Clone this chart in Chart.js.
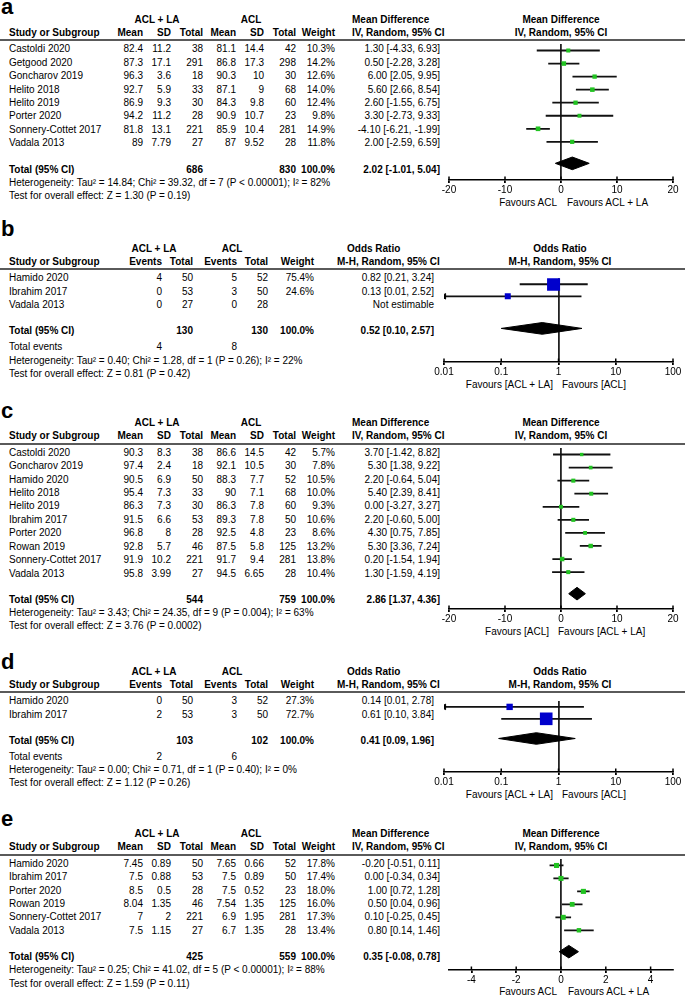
<!DOCTYPE html>
<html>
<head>
<meta charset="utf-8">
<script src="https://cdn.jsdelivr.net/npm/chart.js@4.4.0/dist/chart.umd.min.js"></script>
<style>
  body { margin: 0; width: 685px; height: 995px; position: relative; overflow: hidden; background: #fff;
         font-family: "Liberation Sans", Arial, sans-serif; color: #000; }
  .t { position: absolute; white-space: nowrap; }
  .rule { position: absolute; left: 0; width: 685px; height: 2px; background: #5a5a5a; }
  canvas { position: absolute; }
</style>
</head>
<body>
<script>
// ---- panel a : continuous ----
const aStudy = ['Castoldi 2020', 'Getgood 2020', 'Goncharov 2019', 'Helito 2018', 'Helito 2019', 'Porter 2020', 'Sonnery-Cottet 2017', 'Vadala 2013'];
const aMeanLA = [82.4, 87.3, 96.3, 92.7, 86.9, 94.2, 81.8, 89];
const aSdLA = [11.2, 17.1, 3.6, 5.9, 9.3, 11.2, 13.1, 7.79];
const aNLA = [38, 291, 18, 33, 30, 28, 221, 27];
const aMeanACL = [81.1, 86.8, 90.3, 87.1, 84.3, 90.9, 85.9, 87];
const aSdACL = [14.4, 17.3, 10, 9, 9.8, 10.7, 10.4, 9.52];
const aNACL = [42, 298, 30, 68, 60, 23, 281, 28];
const aWeight = [10.3, 14.2, 12.6, 14.0, 12.4, 9.8, 14.9, 11.8];
const aEst = [1.30, 0.50, 6.00, 5.60, 2.60, 3.30, -4.10, 2.00];
const aLow = [-4.33, -2.28, 2.05, 2.66, -1.55, -2.73, -6.21, -2.59];
const aHigh = [6.93, 3.28, 9.95, 8.54, 6.75, 9.33, -1.99, 6.59];
const aTotal = [2.02, -1.01, 5.04];
const aTotalN = [686, 830];
const aTicks = [-20, -10, 0, 10, 20];

// ---- panel b : dichotomous ----
const bStudy = ['Hamido 2020', 'Ibrahim 2017', 'Vadala 2013'];
const bEvLA = [4, 0, 0];
const bNLA = [50, 53, 27];
const bEvACL = [5, 3, 0];
const bNACL = [52, 50, 28];
const bWeight = [75.4, 24.6, null];
const bEst = [0.82, 0.13, null];
const bLow = [0.21, 0.01, null];
const bHigh = [3.24, 2.52, null];
const bTotal = [0.52, 0.10, 2.57];
const bTotalN = [130, 130];
const bTotalEv = [4, 8];
const bTicks = [0.01, 0.1, 1, 10, 100];

// ---- panel c : continuous ----
const cStudy = ['Castoldi 2020', 'Goncharov 2019', 'Hamido 2020', 'Helito 2018', 'Helito 2019', 'Ibrahim 2017', 'Porter 2020', 'Rowan 2019', 'Sonnery-Cottet 2017', 'Vadala 2013'];
const cMeanLA = [90.3, 97.4, 90.5, 95.4, 86.3, 91.5, 96.8, 92.8, 91.9, 95.8];
const cSdLA = [8.3, 2.4, 6.9, 7.3, 7.3, 6.6, 8, 5.7, 10.2, 3.99];
const cNLA = [38, 18, 50, 33, 30, 53, 28, 46, 221, 27];
const cMeanACL = [86.6, 92.1, 88.3, 90, 86.3, 89.3, 92.5, 87.5, 91.7, 94.5];
const cSdACL = [14.5, 10.5, 7.7, 7.1, 7.8, 7.8, 4.8, 5.8, 9.4, 6.65];
const cNACL = [42, 30, 52, 68, 60, 50, 23, 125, 281, 28];
const cWeight = [5.7, 7.8, 10.5, 10.0, 9.3, 10.6, 8.6, 13.2, 13.8, 10.4];
const cEst = [3.70, 5.30, 2.20, 5.40, 0.00, 2.20, 4.30, 5.30, 0.20, 1.30];
const cLow = [-1.42, 1.38, -0.64, 2.39, -3.27, -0.60, 0.75, 3.36, -1.54, -1.59];
const cHigh = [8.82, 9.22, 5.04, 8.41, 3.27, 5.00, 7.85, 7.24, 1.94, 4.19];
const cTotal = [2.86, 1.37, 4.36];
const cTotalN = [544, 759];
const cTicks = [-20, -10, 0, 10, 20];

// ---- panel d : dichotomous ----
const dStudy = ['Hamido 2020', 'Ibrahim 2017'];
const dEvLA = [0, 2];
const dNLA = [50, 53];
const dEvACL = [3, 3];
const dNACL = [52, 50];
const dWeight = [27.3, 72.7];
const dEst = [0.14, 0.61];
const dLow = [0.01, 0.10];
const dHigh = [2.78, 3.84];
const dTotal = [0.41, 0.09, 1.96];
const dTotalN = [103, 102];
const dTotalEv = [2, 6];
const dTicks = [0.01, 0.1, 1, 10, 100];

// ---- panel e : continuous ----
const eStudy = ['Hamido 2020', 'Ibrahim 2017', 'Porter 2020', 'Rowan 2019', 'Sonnery-Cottet 2017', 'Vadala 2013'];
const eMeanLA = [7.45, 7.5, 8.5, 8.04, 7, 7.5];
const eSdLA = [0.89, 0.88, 0.5, 1.35, 2, 1.15];
const eNLA = [50, 53, 28, 46, 221, 27];
const eMeanACL = [7.65, 7.5, 7.5, 7.54, 6.9, 6.7];
const eSdACL = [0.66, 0.89, 0.52, 1.35, 1.95, 1.35];
const eNACL = [52, 50, 23, 125, 281, 28];
const eWeight = [17.8, 17.4, 18.0, 16.0, 17.3, 13.4];
const eEst = [-0.20, 0.00, 1.00, 0.50, 0.10, 0.80];
const eLow = [-0.51, -0.34, 0.72, 0.04, -0.25, 0.14];
const eHigh = [0.11, 0.34, 1.28, 0.96, 0.45, 1.46];
const eTotal = [0.35, -0.08, 0.78];
const eTotalN = [425, 559];
const eTicks = [-4, -2, 0, 2, 4];

const PITCH = 13.43;
const GREEN = '#22c322';
const BLUE = '#0000cc';

const put = (text, x, base, opts = {}) => {
    const el = document.createElement('div');
    const size = opts.size || 10;
    const lh = size * 1.2;
    el.className = 't';
    el.textContent = text;
    el.style.fontSize = size + 'px';
    el.style.lineHeight = lh + 'px';
    el.style.top = (base - (lh - size * 1.117) / 2 - size * 0.905) + 'px';
    if (opts.bold) el.style.fontWeight = 'bold';
    const align = opts.align || 'left';
    if (align === 'left') {
        el.style.left = x + 'px';
    } else if (align === 'right') {
        el.style.left = (x - 300) + 'px';
        el.style.width = '300px';
        el.style.textAlign = 'right';
    } else {
        el.style.left = (x - 200) + 'px';
        el.style.width = '400px';
        el.style.textAlign = 'center';
    }
    document.body.appendChild(el);
};

const f2 = v => v.toFixed(2);
const ciText = (e, l, h) => `${f2(e)} [${f2(l)}, ${f2(h)}]`;

const panels = [
    {
        kind: 'cont', label: 'a', labelBase: 15, rule: 40, axisY: 180,
        study: aStudy, cols: [aMeanLA, aSdLA, aNLA, aMeanACL, aSdACL, aNACL], weight: aWeight,
        est: aEst, low: aLow, high: aHigh, total: aTotal, totalN: aTotalN,
        log: false, min: -20, max: 20, ticks: aTicks, ref: 0, color: GREEN,
        het: 'Heterogeneity: Tau² = 14.84; Chi² = 39.32, df = 7 (P < 0.00001); I² = 82%',
        test: 'Test for overall effect: Z = 1.30 (P = 0.19)',
        favours: ['Favours ACL', 'Favours ACL + LA'], favX: [557, 567]
    },
    {
        kind: 'dich', label: 'b', labelBase: 237, rule: 269, axisY: 362,
        study: bStudy, cols: [bEvLA, bNLA, bEvACL, bNACL], weight: bWeight,
        est: bEst, low: bLow, high: bHigh, total: bTotal, totalN: bTotalN, totalEv: bTotalEv,
        log: true, min: 0.01, max: 100, ticks: bTicks, ref: 1, color: BLUE,
        het: 'Heterogeneity: Tau² = 0.40; Chi² = 1.28, df = 1 (P = 0.26); I² = 22%',
        test: 'Test for overall effect: Z = 0.81 (P = 0.42)',
        favours: ['Favours [ACL + LA]', 'Favours [ACL]'], favX: [553, 562]
    },
    {
        kind: 'cont', label: 'c', labelBase: 418.5, rule: 443.5, axisY: 609,
        study: cStudy, cols: [cMeanLA, cSdLA, cNLA, cMeanACL, cSdACL, cNACL], weight: cWeight,
        est: cEst, low: cLow, high: cHigh, total: cTotal, totalN: cTotalN,
        log: false, min: -20, max: 20, ticks: cTicks, ref: 0, color: GREEN,
        het: 'Heterogeneity: Tau² = 3.43; Chi² = 24.35, df = 9 (P = 0.004); I² = 63%',
        test: 'Test for overall effect: Z = 3.76 (P = 0.0002)',
        favours: ['Favours [ACL]', 'Favours [ACL + LA]'], favX: [549, 558]
    },
    {
        kind: 'dich', label: 'd', labelBase: 670, rule: 692, axisY: 772,
        study: dStudy, cols: [dEvLA, dNLA, dEvACL, dNACL], weight: dWeight,
        est: dEst, low: dLow, high: dHigh, total: dTotal, totalN: dTotalN, totalEv: dTotalEv,
        log: true, min: 0.01, max: 100, ticks: dTicks, ref: 1, color: BLUE,
        het: 'Heterogeneity: Tau² = 0.00; Chi² = 0.71, df = 1 (P = 0.40); I² = 0%',
        test: 'Test for overall effect: Z = 1.12 (P = 0.26)',
        favours: ['Favours [ACL + LA]', 'Favours [ACL]'], favX: [553, 562]
    },
    {
        kind: 'cont', label: 'e', labelBase: 827, rule: 854.5, axisY: 969.5,
        study: eStudy, cols: [eMeanLA, eSdLA, eNLA, eMeanACL, eSdACL, eNACL], weight: eWeight,
        est: eEst, low: eLow, high: eHigh, total: eTotal, totalN: eTotalN,
        log: false, min: -5, max: 5, ticks: eTicks, ref: 0, color: GREEN,
        het: 'Heterogeneity: Tau² = 0.25; Chi² = 41.02, df = 5 (P < 0.00001); I² = 88%',
        test: 'Test for overall effect: Z = 1.59 (P = 0.11)',
        favours: ['Favours ACL', 'Favours ACL + LA'], favX: [557, 568]
    }
];

const drawTable = (p) => {
    const cont = p.kind === 'cont';
    const g = p.rule - 16.7, c = p.rule - 4;
    const row0 = p.rule + 12.7;
    const n = p.study.length;
    const colX = cont ? [143, 171, 203, 236, 264, 296] : [162, 193, 237, 268];
    const wX = cont ? 335 : 314;
    const ciX = cont ? 440 : 434;

    put(p.label, 1, p.labelBase, {size: 22, bold: true});
    put('ACL + LA', cont ? 157 : 154, g, {align: 'center', bold: true});
    put('ACL', cont ? 251 : 232, g, {align: 'center', bold: true});
    put('Study or Subgroup', 9, c, {bold: true});
    const heads = cont ? ['Mean', 'SD', 'Total', 'Mean', 'SD', 'Total'] : ['Events', 'Total', 'Events', 'Total'];
    heads.forEach((h, i) => put(h, colX[i], c, {align: 'right', bold: true}));
    put('Weight', wX, c, {align: 'right', bold: true});
    if (cont) {
        put('Mean Difference', 352, g, {bold: true});
        put('IV, Random, 95% CI', 352, c, {bold: true});
        put('Mean Difference', 561, g, {align: 'center', bold: true});
        put('IV, Random, 95% CI', 561, c, {align: 'center', bold: true});
    } else {
        put('Odds Ratio', 347, g, {bold: true});
        put('M-H, Random, 95% CI', 337, c, {bold: true});
        put('Odds Ratio', 560, g, {align: 'center', bold: true});
        put('M-H, Random, 95% CI', 560, c, {align: 'center', bold: true});
    }
    const rule = document.createElement('div');
    rule.className = 'rule';
    rule.style.top = (p.rule - 1) + 'px';
    document.body.appendChild(rule);

    p.study.forEach((s, i) => {
        const y = row0 + i * PITCH;
        put(s, 9, y);
        p.cols.forEach((col, k) => put(String(col[i]), colX[k], y, {align: 'right'}));
        if (p.weight[i] != null) put(p.weight[i].toFixed(1) + '%', wX, y, {align: 'right'});
        put(p.est[i] != null ? ciText(p.est[i], p.low[i], p.high[i]) : 'Not estimable', ciX, y, {align: 'right'});
    });

    let y = row0 + (n + 1) * PITCH - 0.5;
    put('Total (95% CI)', 9, y, {bold: true});
    put(String(p.totalN[0]), colX[cont ? 2 : 1], y, {align: 'right', bold: true});
    put(String(p.totalN[1]), colX[cont ? 5 : 3], y, {align: 'right', bold: true});
    put('100.0%', wX, y, {align: 'right', bold: true});
    put(ciText(p.total[0], p.total[1], p.total[2]), ciX, y, {align: 'right', bold: true});
    if (!cont) {
        y += 16;
        put('Total events', 9, y);
        put(String(p.totalEv[0]), colX[0], y, {align: 'right'});
        put(String(p.totalEv[1]), colX[2], y, {align: 'right'});
    }
    put(p.het, 9, y + 13.2);
    put(p.test, 9, y + 26.4);

    put(p.favours[0], p.favX[0], p.axisY + 26, {align: 'right'});
    put(p.favours[1], p.favX[1], p.axisY + 26);
};

// ticks that cross the axis line, like the original
const crossTicks = {
    id: 'crossTicks',
    afterDatasetsDraw(chart) {
        const s = chart.scales.x;
        const c = chart.ctx;
        c.save();
        c.strokeStyle = '#000';
        c.lineWidth = 1.5;
        s.ticks.forEach(t => {
            const x = s.getPixelForValue(t.value);
            c.beginPath();
            c.moveTo(x, s.top - 3.5);
            c.lineTo(x, s.top);
            c.stroke();
        });
        c.restore();
    }
};

const drawForest = (p) => {
    const plotL = p.log ? 444 : 449;
    const plotR = 673;
    const pad = 12;
    const axisH = 20;
    const canvas = document.createElement('canvas');
    canvas.width = plotR - plotL + 2 * pad;
    canvas.height = p.axisY - p.rule + axisH;
    canvas.style.left = (plotL - pad) + 'px';
    canvas.style.top = p.rule + 'px';
    document.body.appendChild(canvas);

    const n = p.study.length;
    const totalRow = n + 1 - 0.35;
    const yMin = -6.7 / PITCH;
    const yMax = yMin + (p.axisY - p.rule) / PITCH;
    const half = 6.5 / PITCH;

    const squares = [], ciLine = [], arrows = [];
    p.est.forEach((e, i) => {
        if (e == null) return;
        squares.push({x: e, y: i, w: p.weight[i]});
        ciLine.push({x: Math.max(p.low[i], p.min), y: i}, {x: p.high[i], y: i}, {x: NaN, y: NaN});
        if (p.low[i] <= p.min) arrows.push({x: p.min, y: i});
    });
    const [tEst, tLow, tHigh] = p.total;

    new Chart(canvas, {
        type: 'scatter',
        data: {
            datasets: [
                {
                    data: squares, pointStyle: 'rect', backgroundColor: p.color, borderWidth: 0,
                    pointRadius: ctx => (2.6 + 0.138 * ctx.raw.w) / 1.414
                },
                {
                    data: arrows, pointStyle: 'triangle', rotation: -90, pointRadius: 3.2,
                    backgroundColor: '#000', borderColor: '#000', borderWidth: 1
                },
                {
                    data: ciLine, showLine: true, borderColor: '#111', borderWidth: 1.8,
                    pointRadius: 0, spanGaps: false
                },
                {
                    data: [{x: tLow, y: totalRow}, {x: tEst, y: totalRow - half}, {x: tHigh, y: totalRow}],
                    showLine: true, borderColor: '#000', borderWidth: 1, pointRadius: 0,
                    fill: '+1', backgroundColor: '#000'
                },
                {
                    data: [{x: tLow, y: totalRow}, {x: tEst, y: totalRow + half}, {x: tHigh, y: totalRow}],
                    showLine: true, borderColor: '#000', borderWidth: 1, pointRadius: 0, fill: false
                }
            ]
        },
        options: {
            responsive: false,
            animation: false,
            devicePixelRatio: 1,
            layout: {padding: {left: pad, right: pad, top: 0, bottom: 0}},
            plugins: {legend: {display: false}, tooltip: {enabled: false}},
            scales: {
                x: {
                    type: p.log ? 'logarithmic' : 'linear',
                    min: p.min,
                    max: p.max,
                    afterBuildTicks: s => { s.ticks = p.ticks.map(v => ({value: v})); },
                    afterFit: s => { s.height = axisH; },
                    ticks: {
                        callback: v => String(v), color: '#000', maxRotation: 0, autoSkip: false, padding: 1,
                        font: {family: '"Liberation Sans", Arial, sans-serif', size: 10}
                    },
                    grid: {
                        color: ctx => (ctx.tick && ctx.tick.value === p.ref) ? '#222' : 'rgba(0,0,0,0)',
                        lineWidth: 1.8,
                        tickColor: '#000',
                        tickLength: 3
                    },
                    border: {color: '#000', width: 1.5}
                },
                y: {
                    type: 'linear', display: false, reverse: true, min: yMin, max: yMax
                }
            }
        },
        plugins: [crossTicks]
    });
};

panels.forEach(p => {
    drawTable(p);
    drawForest(p);
});
</script>
</body>
</html>
